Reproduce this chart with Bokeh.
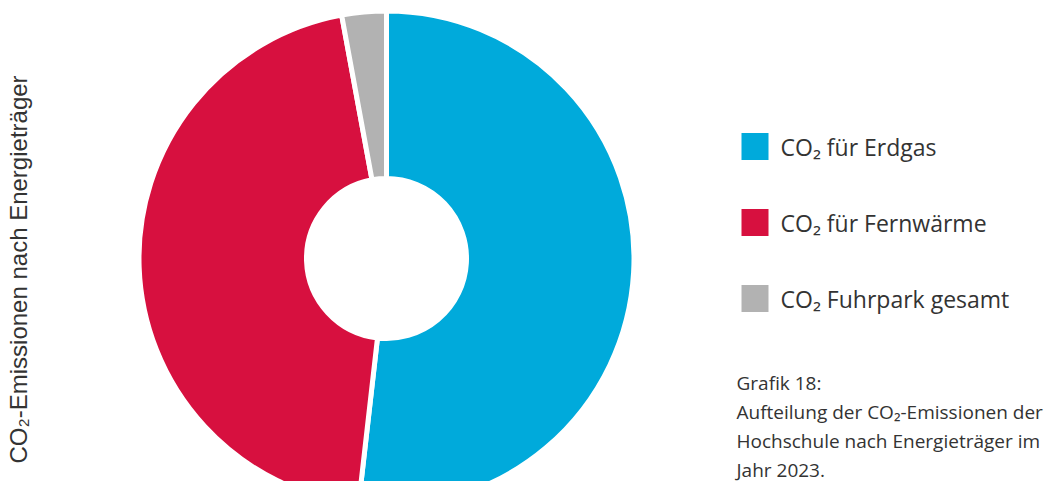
import math
from bokeh.plotting import figure
from bokeh.models import Range1d, ColumnDataSource
from bokeh.core.properties import value
from bokeh.embed import file_html
from bokeh.resources import INLINE

# ---- data ----
labels = ["CO₂ für Erdgas", "CO₂ für Fernwärme", "CO₂ Fuhrpark gesamt"]
shares = [51.8, 45.3, 2.9]
colors = ["#00AADB", "#D7103F", "#B2B2B2"]
axis_title = "CO₂-Emissionen nach Energieträger"
caption = ["Grafik 18:",
           "Aufteilung der CO₂-Emissionen der",
           "Hochschule nach Energieträger im",
           "Jahr 2023."]

W, H = 1048, 481
p = figure(width=W, height=H, output_backend="svg", toolbar_location=None,
           x_range=Range1d(0, W), y_range=Range1d(0, H), min_border=0)
p.axis.visible = False
p.grid.visible = False
p.outline_line_color = None
p.background_fill_color = "white"
p.border_fill_color = "white"

def sy(y):  # reference pixel y -> data y
    return H - y

def sx(x):
    return x

# donut
total = sum(shares)
starts, ends = [], []
cum = 0.0
for s in shares:
    starts.append(math.pi / 2 - 2 * math.pi * cum / total)
    cum += s
    ends.append(math.pi / 2 - 2 * math.pi * cum / total)
src = ColumnDataSource(dict(start=starts, end=ends, color=colors))
cx, cy = sx(386), sy(258)
p.annular_wedge(x=cx, y=cy, inner_radius=80, outer_radius=247.5,
                start_angle="start", end_angle="end", direction="clock",
                fill_color="color", line_color="white", line_width=5, source=src)

# rotated title
p.text(x=[sx(18)], y=[sy(269)], text=[axis_title], angle=math.pi / 2,
       text_align="center", text_baseline="middle",
       text_font=value("Liberation Sans"), text_font_size="24px", text_color="#333333")

# legend
leg_y = [sy(146), sy(222), sy(298)]
p.rect(x=[sx(754.5)] * 3, y=leg_y, width=27, height=27, fill_color=colors, line_color=None)
p.text(x=[sx(780)] * 3, y=leg_y, text=labels, text_align="left", text_baseline="middle",
       text_font=value("Open Sans"), text_font_size="23px", text_color="#333333")

# caption
cap_y = [sy(382), sy(411), sy(440), sy(469)]
p.text(x=[sx(736)] * 4, y=cap_y, text=caption, text_align="left", text_baseline="middle",
       text_font=value("Open Sans"), text_font_size="19px", text_color="#333333")

open("out.html", "w").write(file_html(p, INLINE))
